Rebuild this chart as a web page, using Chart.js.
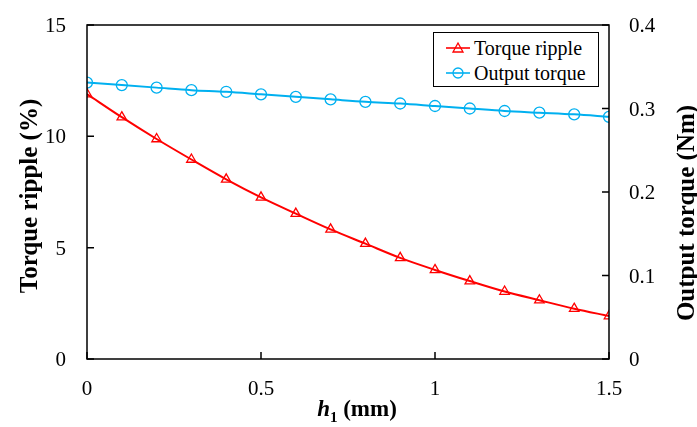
<!DOCTYPE html>
<html>
<head>
<meta charset="utf-8">
<script src="https://cdn.jsdelivr.net/npm/chart.js@4/dist/chart.umd.min.js"></script>
<style>
  html, body { margin: 0; padding: 0; background: #fff; }
  #wrap { position: relative; width: 697px; height: 427px; overflow: hidden; }
  canvas { position: absolute; left: 0; top: 0; }
  .ttl {
    position: absolute; white-space: nowrap; color: #000;
    font-family: "Liberation Serif", "Times New Roman", serif; font-weight: bold; font-size: 25px;
  }
  .vert { transform: translate(-50%, -50%) rotate(-90deg); }
  #xTitle { transform: translate(-50%, -50%); font-size: 23px; }
  .tick {
    position: absolute; white-space: nowrap; color: #000; line-height: 20px;
    font-family: "Liberation Serif", "Times New Roman", serif; font-size: 21px;
  }
  #legend {
    position: absolute; left: 433px; top: 32px; width: 164px; height: 53px;
    border: 1.5px solid #000; background: #fff;
    font-family: "Liberation Serif", "Times New Roman", serif; font-size: 20px; color: #000;
  }
  .leg-row { position: absolute; left: 12px; height: 24px; display: flex; align-items: center; }
  .leg-row svg { margin-right: 4px; }
</style>
</head>
<body>
<div id="wrap">
  <canvas id="chart" width="697" height="427"></canvas>
  <div id="tickLayer"></div>
  <div class="ttl vert" style="left:29px; top:196px;">Torque ripple (%)</div>
  <div class="ttl vert" style="left:686px; top:213px;">Output torque (Nm)</div>
  <div class="ttl" id="xTitle" style="left:357px; top:411px;"><i>h</i><sub style="font-size:15px;">1</sub> (mm)</div>
  <div id="legend">
    <div class="leg-row" style="top:3px;">
      <svg width="24" height="14"><line x1="0" y1="7" x2="24" y2="7" stroke="#ff0000" stroke-width="1.6"/><polygon points="12,2 17,11 7,11" fill="none" stroke="#ff0000" stroke-width="1.3"/></svg>Torque ripple
    </div>
    <div class="leg-row" style="top:28px;">
      <svg width="24" height="14"><line x1="0" y1="7" x2="24" y2="7" stroke="#00b0f0" stroke-width="1.6"/><circle cx="12" cy="7" r="5" fill="none" stroke="#00b0f0" stroke-width="1.3"/></svg>Output torque
    </div>
  </div>
</div>
<script>
'use strict';

const hValues = [0, 0.1, 0.2, 0.3, 0.4, 0.5, 0.6, 0.7, 0.8, 0.9, 1.0, 1.1, 1.2, 1.3, 1.4, 1.5];
const torqueRipple = [11.9, 10.86, 9.88, 8.96, 8.07, 7.26, 6.53, 5.82, 5.18, 4.54, 4.0, 3.5, 3.03, 2.64, 2.26, 1.93];
const outputTorque = [0.331, 0.328, 0.325, 0.322, 0.320, 0.317, 0.314, 0.311, 0.308, 0.306, 0.303, 0.300, 0.297, 0.295, 0.293, 0.290];

const xTicks = [0, 0.5, 1, 1.5];
const rippleTicks = [0, 5, 10, 15];
const torqueTicks = [0, 0.1, 0.2, 0.3, 0.4];

const toPoints = (ys) => hValues.map((x, i) => ({ x, y: ys[i] }));
const fixTicks = (values) => (scale) => { scale.ticks = values.map((value) => ({ value })); };
const fmt = (v) => String(Number(v.toFixed(2)));
// pin axis box sizes so the plot area lands where the reference has it
const pinBox = (w, h) => (s) => {
  if (w) s.width = w;
  if (h) s.height = h;
  s.paddingTop = 0; s.paddingBottom = 0; s.paddingLeft = 0; s.paddingRight = 0;
};

// frame round the plot area plus short inward tick marks
const framePlugin = {
  id: 'frame',
  afterDraw(chart) {
    const { ctx, chartArea: a, scales } = chart;
    ctx.save();
    ctx.strokeStyle = '#000';
    ctx.lineWidth = 1.5;
    ctx.strokeRect(a.left, a.top, a.right - a.left, a.bottom - a.top);
    ctx.beginPath();
    const len = 7;
    scales.x.ticks.forEach((t) => {
      const px = scales.x.getPixelForValue(t.value);
      ctx.moveTo(px, a.bottom); ctx.lineTo(px, a.bottom - len);
    });
    scales.y.ticks.forEach((t) => {
      const py = scales.y.getPixelForValue(t.value);
      ctx.moveTo(a.left, py); ctx.lineTo(a.left + len, py);
    });
    scales.y1.ticks.forEach((t) => {
      const py = scales.y1.getPixelForValue(t.value);
      ctx.moveTo(a.right, py); ctx.lineTo(a.right - len, py);
    });
    ctx.stroke();
    ctx.restore();
  }
};

// tick labels as html text (canvas kept falling back to a sans face)
const tickLabelPlugin = {
  id: 'tickLabels',
  afterDraw(chart) {
    const layer = document.getElementById('tickLayer');
    const { chartArea: a, scales } = chart;
    const add = (text, css) => {
      const el = document.createElement('div');
      el.className = 'tick';
      el.textContent = text;
      Object.assign(el.style, css);
      layer.appendChild(el);
    };
    layer.innerHTML = '';
    scales.x.ticks.forEach((t) => {
      const px = scales.x.getPixelForValue(t.value);
      add(fmt(t.value), { left: `${px}px`, top: `${a.bottom + 19}px`, transform: 'translateX(-50%)' });
    });
    scales.y.ticks.forEach((t) => {
      const py = scales.y.getPixelForValue(t.value);
      add(fmt(t.value), { right: `${697 - a.left + 21}px`, top: `${py - 10}px` });
    });
    scales.y1.ticks.forEach((t) => {
      const py = scales.y1.getPixelForValue(t.value);
      add(fmt(t.value), { left: `${a.right + 20}px`, top: `${py - 10}px` });
    });
  }
};

const seriesStyle = (color, pointStyle) => ({
  borderColor: color,
  borderWidth: 2,
  pointStyle,
  pointRadius: 5.5,
  pointBorderWidth: 1.3,
  pointBorderColor: color,
  pointBackgroundColor: 'rgba(0,0,0,0)',
  cubicInterpolationMode: 'monotone'
});

const hiddenTicks = { display: false, callback: fmt };

new Chart(document.getElementById('chart'), {
  type: 'line',
  data: {
    datasets: [
      { label: 'Torque ripple', data: toPoints(torqueRipple), yAxisID: 'y', ...seriesStyle('#ff0000', 'triangle') },
      { label: 'Output torque', data: toPoints(outputTorque), yAxisID: 'y1', ...seriesStyle('#00b0f0', 'circle') }
    ]
  },
  options: {
    responsive: false,
    animation: false,
    devicePixelRatio: 1,
    layout: { padding: { top: 25, left: 0, right: 0, bottom: 0 } },
    plugins: { legend: { display: false }, tooltip: { enabled: false } },
    scales: {
      x: {
        type: 'linear', min: 0, max: 1.5,
        grid: { display: false, drawTicks: false }, border: { display: false },
        afterBuildTicks: fixTicks(xTicks),
        afterFit: pinBox(0, 68),
        ticks: hiddenTicks
      },
      y: {
        position: 'left', min: 0, max: 15,
        grid: { display: false, drawTicks: false }, border: { display: false },
        afterBuildTicks: fixTicks(rippleTicks),
        afterFit: pinBox(87, 0),
        ticks: hiddenTicks
      },
      y1: {
        position: 'right', min: 0, max: 0.4,
        grid: { display: false, drawTicks: false }, border: { display: false },
        afterBuildTicks: fixTicks(torqueTicks),
        afterFit: pinBox(88, 0),
        ticks: hiddenTicks
      }
    }
  },
  plugins: [framePlugin, tickLabelPlugin]
});
</script>
</body>
</html>
